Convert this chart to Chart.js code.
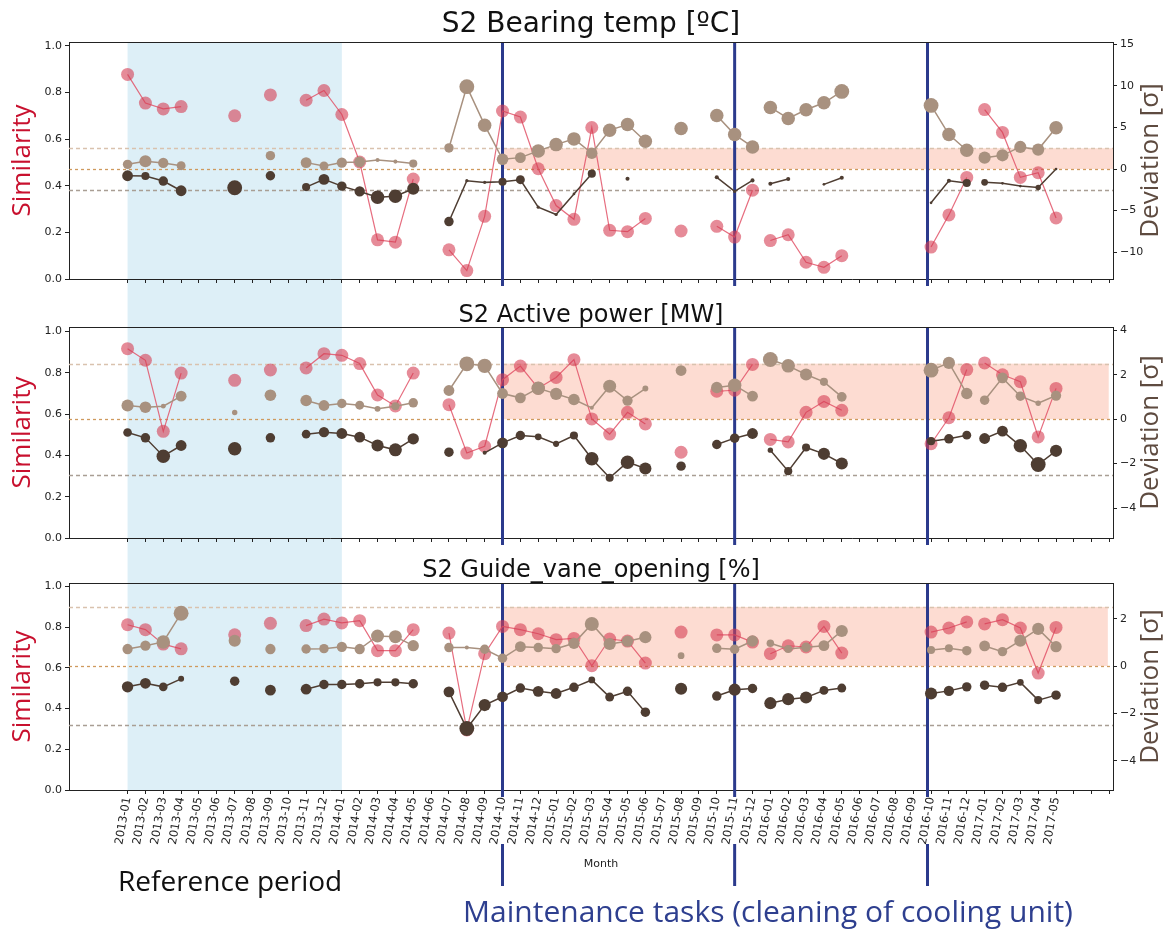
<!DOCTYPE html>
<html>
<head>
<meta charset="utf-8">
<script src="https://cdn.jsdelivr.net/npm/chart.js@4.4.1/dist/chart.umd.min.js"></script>
<style>
  body { margin: 0; background: #fff; }
  #wrap { position: relative; width: 1171px; height: 930px; overflow: hidden; }
  canvas { position: absolute; left: 0; }
</style>
</head>
<body>
<div id="wrap">
  <canvas id="c1" width="1171" height="300" style="top:0px"></canvas>
  <canvas id="c2" width="1171" height="255" style="top:300px"></canvas>
  <canvas id="c3" width="1171" height="375" style="top:555px"></canvas>
</div>
<script>
// months on the x axis (index = position)
const months = [
  "2013-01","2013-02","2013-03","2013-04","2013-05","2013-06","2013-07","2013-08","2013-09","2013-10","2013-11","2013-12",
  "2014-01","2014-02","2014-03","2014-04","2014-05","2014-06","2014-07","2014-08","2014-09","2014-10","2014-11","2014-12",
  "2015-01","2015-02","2015-03","2015-04","2015-05","2015-06","2015-07","2015-08","2015-09","2015-10","2015-11","2015-12",
  "2016-01","2016-02","2016-03","2016-04","2016-05","2016-06","2016-07","2016-08","2016-09","2016-10","2016-11","2016-12",
  "2017-01","2017-02","2017-03","2017-04","2017-05"
];
const xTicks = [0,1,2,3,4,5,6,7,8,9,10,11,12,13,14,15,16,17,18,19,20,21,22,23,24,25,26,27,28,29,30,31,32,33,34,35,36,37,38,39,40,41,42,43,44,45,46,47,48,49,50,51,52,53,54,55];
const simTicks = [0, 0.2, 0.4, 0.6, 0.8, 1.0];
const refPeriod = [0, 12];          // 2013-01 .. 2014-01
const maintenance = [21, 34, 44.8]; // cleaning of cooling unit
const lineBreaks = [35, 47];        // no line drawn from these months to the next
const sigmaLines = [2.5, 0, -2.5];
const sigmaBand = [0, 2.5];

// ---- S2 Bearing temp ----
const sim1 = [
  .878, .755, .73, .74, null, null, .70, null, .79, null, .767, .809,
  .706, .502, .168, .158, .429, null, .125, .036, .269, .721, .695, .473,
  .315, .256, .65, .209, .203, .26, null, .206, null, .226, .18, .381,
  .165, .19, .072, .05, .10, null, null, null, null, .137, .275, .436,
  .727, .629, .436, .456, .262];
const devA1 = [
  .56, .93, .73, .40, null, null, null, null, 1.61, null, .77, .36,
  .77, .85, 1.09, .89, .65, null, 2.54, 9.92, 5.28, 1.17, 1.37, 2.18,
  2.94, 3.63, 1.90, 4.68, 5.36, 3.35, null, 4.88, null, 6.45, 4.15, 2.66,
  7.42, 6.09, 7.14, 7.98, 9.35, null, null, null, null, 7.66, 4.15, 2.26,
  1.37, 1.65, 2.66, 2.34, 4.96];
const sizeA1 = [
  3.5, 4.5, 3.8, 3.3, 0, 0, 0, 0, 3.5, 0, 4, 3.3,
  3.8, 4, 1.5, 1.5, 3, 0, 3.5, 5.5, 5, 4.3, 4, 5,
  5, 5, 4.2, 5, 5, 5, 0, 5, 0, 5, 5, 5,
  5, 5, 5, 5, 5.5, 0, 0, 0, 0, 5.5, 5, 5,
  4.5, 4.5, 4.5, 4.5, 5];
const devB1 = [
  -.81, -.85, -1.45, -2.62, null, null, -2.26, null, -.81, null, -2.18, -1.25,
  -2.06, -2.70, -3.39, -3.27, -2.38, null, -6.33, -1.41, -1.61, -1.53, -1.29, -4.60,
  -5.48, -3.0, -.56, null, -1.17, null, null, null, null, -1.0, -2.7, -1.37,
  -1.77, -1.21, null, -1.85, -1.05, null, null, null, null, -4.07, -1.41, -1.69,
  -1.61, -1.73, -2.06, -2.22, 0.0];
const sizeB1 = [
  4, 3, 3.5, 4, 0, 0, 5.5, 0, 3.5, 0, 3, 4,
  3.5, 3.8, 5, 5, 4.5, 0, 3.5, 1.2, 1.2, 3, 3.3, 1.2,
  1.2, 1, 3, 0, 1.5, 0, 0, 0, 0, 1.5, 1.2, 1.5,
  1.5, 1.5, 0, 1, 1.5, 0, 0, 0, 0, 1, 1.5, 3,
  2.5, 1, 1, 2, 1];

// ---- S2 Active power ----
const sim2 = [
  .916, .86, .516, .798, null, null, .763, null, .813, null, .823, .892,
  .884, .844, .692, .639, .798, null, .645, .411, .444, .766, .832, .725,
  .777, .863, .576, .503, .608, .552, null, .415, null, .71, .715, .84,
  .477, .465, .608, .661, .618, null, null, null, null, .456, .582, .815,
  .847, .79, .756, .489, .724];
const devA2 = [
  .615, .54, .585, 1.035, null, null, .3, null, 1.08, null, .84, .615,
  .705, .63, .465, .585, .735, null, 1.29, 2.49, 2.4, 1.155, .96, 1.395,
  1.14, .885, .51, 1.485, .84, 1.38, null, 2.19, null, 1.425, 1.53, 1.035,
  2.685, 2.4, 2.01, 1.68, 1.005, null, null, null, null, 2.205, 2.535, 1.155,
  .855, 1.86, 1.035, .72, 1.065];
const sizeA2 = [
  4.5, 4.3, 1.8, 4, 0, 0, 2, 0, 4.3, 0, 4.3, 4,
  3.5, 3.3, 2.2, 3, 3.5, 0, 4, 5.5, 5.3, 4, 4, 5,
  4.5, 4.3, 1.5, 4.8, 3.8, 2.2, 0, 4, 0, 4.2, 5, 4,
  5.5, 5, 4.5, 3, 3.6, 0, 0, 0, 0, 5.5, 4.5, 4.2,
  3.5, 4, 3.5, 2, 3.8];
const devB2 = [
  -.6, -.84, -1.665, -1.185, null, null, -1.335, null, -.84, null, -.675, -.585,
  -.645, -.81, -1.185, -1.38, -.885, null, -1.485, null, -1.515, -1.065, -.735, -.795,
  -1.11, -.735, -1.785, -2.64, -1.935, -2.22, null, -2.115, null, -1.14, -.855, -.645,
  -1.395, -2.34, -1.275, -1.56, -1.995, null, null, null, null, -.99, -.885, -.72,
  -.87, -.54, -1.2, -2.04, -1.425];
const sizeB2 = [
  3.2, 3.5, 5, 4, 0, 0, 5, 0, 3.5, 0, 3.2, 3.8,
  4, 4, 4.5, 4.8, 4.2, 0, 3.5, 0, 1.5, 4, 3.5, 2.5,
  2.3, 3, 5, 3, 5, 4.5, 0, 3.5, 0, 3.5, 3.5, 4,
  2, 3, 3, 4.5, 4.5, 0, 0, 0, 0, 3, 3.5, 3.3,
  4, 4, 5, 5.5, 4.5];

// ---- S2 Guide_vane_opening ----
const sim3 = [
  .811, .787, .716, .693, null, null, .762, null, .818, null, .807, .839,
  .82, .831, .684, .684, .787, null, .77, .295, .669, .803, .787, .767,
  .738, .744, .61, .741, .731, .623, null, .775, null, .761, .761, .726,
  .669, .708, .702, .803, .672, null, null, null, null, .775, .795, .825,
  .815, .836, .795, .574, .798];
const devA3 = [
  .72, .86, 1.02, 2.23, null, null, 1.07, null, .72, null, .72, .735,
  .81, .72, 1.27, 1.24, .86, null, .78, .78, .71, .33, .82, .78,
  .735, .96, 1.78, .93, 1.05, 1.22, null, .44, null, .75, .71, 1.06,
  .96, .72, .79, .86, 1.48, null, null, null, null, .68, .75, .65,
  .85, .61, 1.07, 1.57, .82];
const sizeA3 = [
  3.8, 3.8, 5, 5.5, 0, 0, 4.5, 0, 3.8, 0, 3.5, 3.5,
  3.8, 3.8, 4.8, 4.8, 4.2, 0, 3.5, 1.5, 3.5, 3.5, 4, 3.5,
  3.5, 4.2, 5.2, 4.5, 4.2, 4.5, 0, 2.5, 0, 3.5, 3.5, 4.2,
  2.8, 3, 3.5, 4, 4.5, 0, 0, 0, 0, 3, 3, 3.5,
  4, 3.5, 4.5, 4.5, 4.2];
const devB3 = [
  -.88, -.73, -.88, -.54, null, null, -.64, null, -1.02, null, -.98, -.78,
  -.78, -.75, -.69, -.69, -.75, null, -1.09, -2.64, -1.65, -1.30, -.93, -1.07,
  -1.16, -.90, -.59, -1.31, -1.07, -1.95, null, -.96, null, -1.27, -1.0, -.95,
  -1.57, -1.40, -1.33, -1.03, -.93, null, null, null, null, -1.16, -1.05, -.88,
  -.81, -.90, -.69, -1.44, -1.23];
const sizeB3 = [
  4.2, 4, 3.2, 2.2, 0, 0, 3.5, 0, 4, 0, 4, 3.5,
  3.5, 3.5, 3, 3, 3.5, 0, 4, 5.5, 4.5, 4, 3.5, 4,
  4, 3.5, 2.5, 3.3, 3.5, 3.5, 0, 4.5, 0, 3.5, 4.5, 3.5,
  4.5, 4.5, 4.5, 3.3, 3.3, 0, 0, 0, 0, 4.5, 3.8, 3.5,
  3.5, 3.5, 2.5, 3, 3.5];

const RED_PT = 'rgba(214,62,84,0.6)';
const RED_LN = 'rgba(226,84,104,0.85)';
const TAN = '#a8917f';
const DARK = '#4e3d32';
const BLUE = '#2b3a8c';
const PINK = '#fddcd2';
const SKY = '#ddeff7';
const DASH_COL = ['#d9c2ae', '#cf9a5e', '#a99e94'];
const AXIS = '#222';
const X_MIN = -3.28, X_MAX = 55.19;
const RED_R = 6.5;     // similarity marker radius
const SIZE_K = 1.35;   // deviation marker radius scale

const panels = [
  { canvas: 'c1', title: 'S2 Bearing temp [ºC]', titleSize: 28, titleY: 32,
    sim: sim1, devA: devA1, devB: devB1, sizeA: sizeA1, sizeB: sizeB1,
    simMax: 1.017, devMin: -13.25, devMax: 15.3, devTicks: [-10, -5, 0, 5, 10, 15],
    padTop: 42, xHeight: 21, refTop: true, refBottom: false, bandEnd: 55.19 },
  { canvas: 'c2', title: 'S2 Active power [MW]', titleSize: 24, titleY: 22,
    sim: sim2, devA: devA2, devB: devB2, sizeA: sizeA2, sizeB: sizeB2,
    simMax: 1.021, devMin: -5.35, devMax: 4.15, devTicks: [-4, -2, 0, 2, 4],
    padTop: 27, xHeight: 17, refTop: false, refBottom: false, bandEnd: 54.95 },
  { canvas: 'c3', title: 'S2 Guide_vane_opening [%]', titleSize: 24, titleY: 22,
    sim: sim3, devA: devA3, devB: devB3, sizeA: sizeA3, sizeB: sizeB3,
    simMax: 1.016, devMin: -5.24, devMax: 3.51, devTicks: [-4, -2, 0, 2],
    padTop: 28, xHeight: 140, refTop: false, refBottom: true, bandEnd: 54.9, last: true }
];

const decor = {
  id: 'decor',
  beforeDraw(chart, args, o) {
    const {ctx, chartArea: a} = chart;
    const x = chart.scales.x;
    const x0 = x.getPixelForValue(refPeriod[0]);
    const x1 = x.getPixelForValue(refPeriod[1]);
    const top = o.refTop ? a.top : 0;
    const bot = o.refBottom ? a.bottom : chart.height;
    ctx.save();
    ctx.fillStyle = SKY;
    ctx.fillRect(x0, top, x1 - x0, bot - top);
    ctx.restore();
  },
  beforeDatasetsDraw(chart, args, o) {
    const {ctx, chartArea: a} = chart;
    const x = chart.scales.x, yr = chart.scales.y2;
    ctx.save();
    ctx.beginPath();
    ctx.rect(a.left, a.top, a.width, a.height);
    ctx.clip();
    const bx0 = x.getPixelForValue(maintenance[0]);
    const bx1 = x.getPixelForValue(o.bandEnd);
    const by0 = yr.getPixelForValue(sigmaBand[1]);
    const by1 = yr.getPixelForValue(sigmaBand[0]);
    ctx.fillStyle = PINK;
    ctx.fillRect(bx0, by0, bx1 - bx0, by1 - by0);
    ctx.lineWidth = 1.3;
    sigmaLines.forEach((v, i) => {
      const py = Math.round(yr.getPixelForValue(v)) + 0.5;
      ctx.strokeStyle = DASH_COL[i];
      ctx.setLineDash(i === 1 ? [3, 3] : [4, 3]);
      ctx.beginPath();
      ctx.moveTo(a.left, py);
      ctx.lineTo(a.right, py);
      ctx.stroke();
    });
    ctx.restore();

    ctx.save();
    ctx.strokeStyle = BLUE;
    ctx.lineWidth = 3;
    maintenance.forEach(m => {
      const px = x.getPixelForValue(m);
      ctx.beginPath();
      ctx.moveTo(px, a.top);
      ctx.lineTo(px, a.bottom + 7);
      ctx.stroke();
    });
    ctx.strokeStyle = AXIS;
    ctx.lineWidth = 1;
    ctx.beginPath();
    ctx.moveTo(a.left, a.top + 0.5);
    ctx.lineTo(a.right, a.top + 0.5);
    ctx.stroke();
    ctx.restore();
  },
  afterDraw(chart, args, o) {
    const {ctx, chartArea: a} = chart;
    const x = chart.scales.x;
    const cy = (a.top + a.bottom) / 2;
    ctx.save();
    // title
    ctx.fillStyle = '#111';
    ctx.font = o.titleSize + 'px "DejaVu Sans"';
    ctx.textAlign = 'center';
    ctx.textBaseline = 'alphabetic';
    ctx.fillText(o.title, (a.left + a.right) / 2, o.titleY);
    // axis titles
    ctx.font = '26px "Open Sans"';
    ctx.textBaseline = 'middle';
    ctx.save();
    ctx.translate(23, cy);
    ctx.rotate(-Math.PI / 2);
    ctx.fillStyle = '#c8102e';
    ctx.fillText('Similarity', 0, 0);
    ctx.restore();
    ctx.save();
    ctx.translate(1151, cy);
    ctx.rotate(-Math.PI / 2);
    ctx.fillStyle = '#5e4b40';
    ctx.fillText('Deviation [σ]', 0, 0);
    ctx.restore();

    if (o.last) {
      ctx.fillStyle = '#222';
      ctx.font = '11px "DejaVu Sans"';
      ctx.fillText('Month', 601, a.bottom + 74);
      // markers under the axis
      ctx.strokeStyle = BLUE;
      ctx.lineWidth = 3;
      maintenance.forEach(m => {
        const px = x.getPixelForValue(m);
        ctx.beginPath();
        ctx.moveTo(px, a.bottom + 54);
        ctx.lineTo(px, a.bottom + 96);
        ctx.stroke();
      });
      ctx.textBaseline = 'alphabetic';
      ctx.textAlign = 'left';
      ctx.fillStyle = '#111';
      ctx.font = '28px "Open Sans"';
      ctx.fillText('Reference period', 118, a.bottom + 101);
      ctx.textAlign = 'center';
      ctx.fillStyle = '#2e3f8f';
      ctx.font = '30px "Open Sans"';
      ctx.fillText('Maintenance tasks (cleaning of cooling unit)', 768, a.bottom + 132);
    }
    ctx.restore();
  }
};

function series(arr) {
  return arr.map((v, i) => ({x: i, y: v}));
}

function makeChart(p) {
  const seg = {
    borderColor: c => lineBreaks.includes(c.p0DataIndex) ? 'rgba(0,0,0,0)' : undefined
  };
  const tickFont = {family: 'DejaVu Sans', size: 11};
  // first dataset is painted last (on top): brown markers sit above the red ones
  return new Chart(document.getElementById(p.canvas), {
    type: 'line',
    data: {
      datasets: [
        { data: series(p.devB), yAxisID: 'y2', borderColor: DARK, borderWidth: 1.5,
          pointBackgroundColor: DARK, pointBorderWidth: 0,
          pointRadius: c => p.sizeB[c.dataIndex] * SIZE_K, segment: seg },
        { data: series(p.devA), yAxisID: 'y2', borderColor: TAN, borderWidth: 1.5,
          pointBackgroundColor: TAN, pointBorderWidth: 0,
          pointRadius: c => p.sizeA[c.dataIndex] * SIZE_K, segment: seg },
        { data: series(p.sim), yAxisID: 'y', borderColor: RED_LN, borderWidth: 1.2,
          pointBackgroundColor: RED_PT, pointBorderWidth: 0, pointRadius: RED_R, segment: seg }
      ]
    },
    options: {
      responsive: false,
      animation: false,
      events: [],
      layout: {padding: {top: p.padTop, left: 0, right: 0, bottom: 0}},
      plugins: {
        legend: {display: false},
        tooltip: {enabled: false},
        decor: {
          title: p.title, titleSize: p.titleSize, titleY: p.titleY,
          refTop: p.refTop, refBottom: p.refBottom, bandEnd: p.bandEnd, last: !!p.last
        }
      },
      scales: {
        x: {
          type: 'linear', min: X_MIN, max: X_MAX,
          afterBuildTicks: s => { s.ticks = xTicks.map(v => ({value: v})); },
          afterFit: s => { s.height = p.xHeight; },
          ticks: {
            autoSkip: false,
            minRotation: p.last ? 80 : 0, maxRotation: p.last ? 80 : 0,
            padding: 2, color: '#222', font: {family: 'DejaVu Sans', size: 11.5},
            callback: v => p.last ? (months[v] || '') : ''
          },
          grid: {drawOnChartArea: false, drawTicks: true, tickLength: 4, color: AXIS},
          border: {display: true, color: AXIS, width: 1}
        },
        y: {
          position: 'left', min: 0, max: p.simMax,
          afterBuildTicks: s => { s.ticks = simTicks.map(v => ({value: v})); },
          afterFit: s => { s.width = 69; },
          ticks: {padding: 3, color: '#222', font: tickFont, callback: v => v.toFixed(1)},
          grid: {drawOnChartArea: false, tickLength: 4, color: AXIS},
          border: {display: true, color: AXIS, width: 1}
        },
        y2: {
          position: 'right', min: p.devMin, max: p.devMax,
          afterBuildTicks: s => { s.ticks = p.devTicks.map(v => ({value: v})); },
          afterFit: s => { s.width = 58; },
          ticks: {padding: 3, color: '#222', font: tickFont,
            callback: v => v < 0 ? '\u2212' + Math.abs(v) : String(v)},
          grid: {drawOnChartArea: false, tickLength: 4, color: AXIS},
          border: {display: true, color: AXIS, width: 1}
        }
      }
    },
    plugins: [decor]
  });
}

panels.forEach(makeChart);
</script>
</body>
</html>
